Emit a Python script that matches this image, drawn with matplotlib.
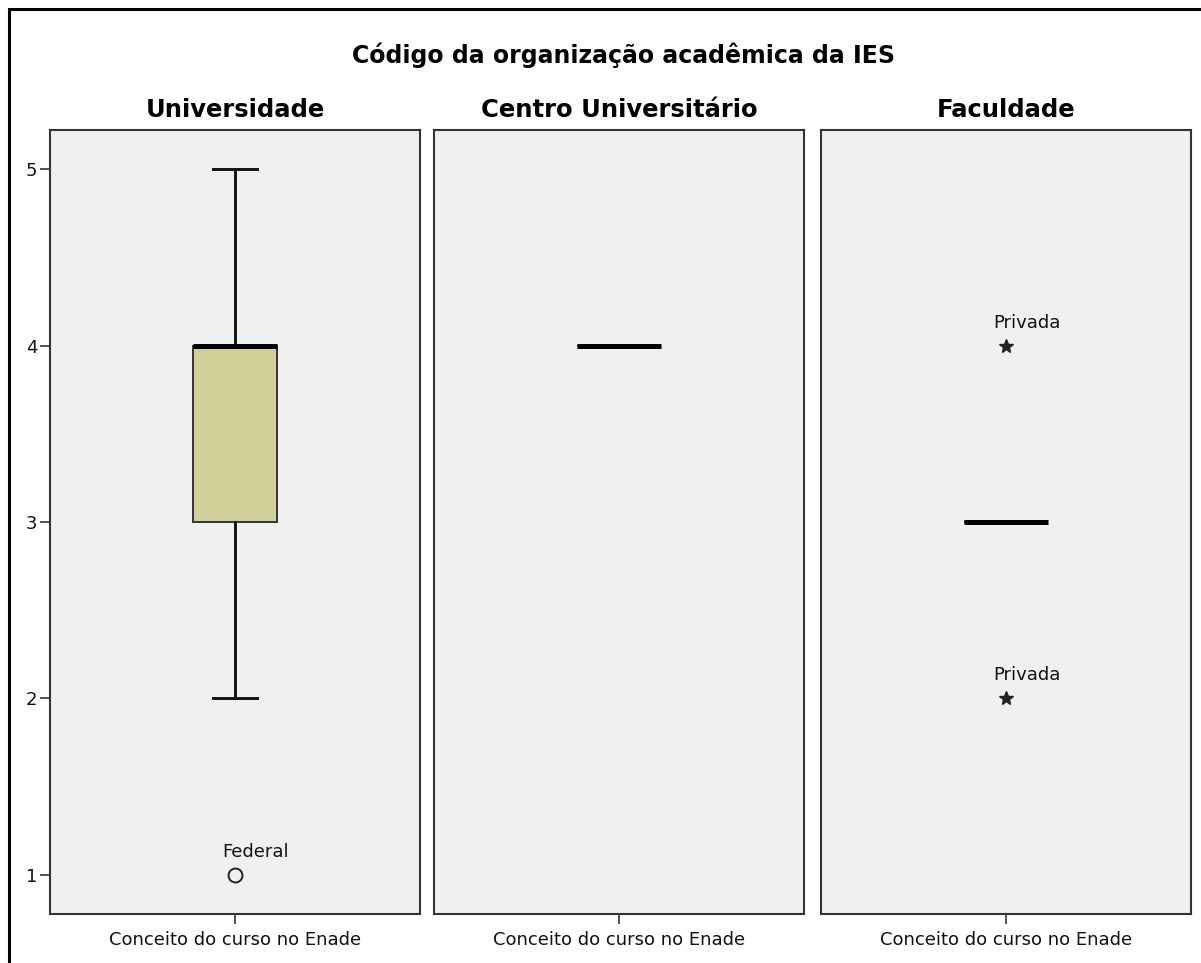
import matplotlib
matplotlib.use("Agg")
import matplotlib.pyplot as plt
from matplotlib.patches import Rectangle

# data
main_title = "Código da organização acadêmica da IES"
panels = ["Universidade", "Centro Universitário", "Faculdade"]
xlabel = "Conceito do curso no Enade"
q1 = [3, 4, 3]
med = [4, 4, 3]
q3 = [4, 4, 3]
whislo = [2, 4, 3]
whishi = [5, 4, 3]
outliers = [[1], [], []]
outlier_labels = [["Federal"], [], []]
extremes = [[], [], [4, 2]]
extreme_labels = [[], [], ["Privada", "Privada"]]
yticks = [1, 2, 3, 4, 5]

W, H = 1201, 963
fig = plt.figure(figsize=(W / 100, H / 100), dpi=100)
fig.patch.set_facecolor("white")

# outer frame (top/left visible, rest runs off the image)
fig.patches.append(Rectangle((9 / W, -0.1), 1.2, (H - 9) / H + 0.1, transform=fig.transFigure,
                             fill=False, edgecolor="black", linewidth=2.2))

fig.text(623 / W, 1 - 55 / H, main_title, ha="center", va="center",
         fontsize=17, fontweight="bold", family="DejaVu Sans")

lefts = [50, 434, 821]
pw = 370
top, bottom = 130, 914
txt = dict(fontsize=13, family="DejaVu Sans", color="#111111")

for i, name in enumerate(panels):
    ax = fig.add_axes([lefts[i] / W, 1 - bottom / H, pw / W, (bottom - top) / H])
    ax.set_facecolor("#f0f0f0")
    stats = [dict(med=med[i], q1=q1[i], q3=q3[i], whislo=whislo[i], whishi=whishi[i], fliers=[])]
    ax.bxp(stats, positions=[1], widths=0.227, capwidths=0.119, patch_artist=True,
           boxprops=dict(facecolor="#d2ce98", edgecolor="#333333", linewidth=1.4),
           whiskerprops=dict(color="#111111", linewidth=2.1),
           capprops=dict(color="#111111", linewidth=2.1),
           medianprops=dict(color="black", linewidth=3.6, solid_capstyle="butt"))
    for v, lab in zip(outliers[i], outlier_labels[i]):
        ax.plot([1], [v], marker="o", markersize=10, markerfacecolor="none",
                markeredgecolor="#222222", markeredgewidth=1.4, linestyle="none")
        ax.annotate(lab, (1, v), xytext=(-13, 14), textcoords="offset pixels",
                    ha="left", va="bottom", **txt)
    for v, lab in zip(extremes[i], extreme_labels[i]):
        ax.plot([1], [v], marker="*", markersize=10, color="#222222", linestyle="none")
        ax.annotate(lab, (1, v), xytext=(-13, 14), textcoords="offset pixels",
                    ha="left", va="bottom", **txt)

    ax.set_xlim(0.5, 1.5)
    ax.set_ylim(0.779, 5.221)
    ax.set_xticks([1])
    ax.set_xticklabels([xlabel], **txt)
    ax.tick_params(axis="x", length=7, width=1.2, color="#333333", pad=5)
    if i == 0:
        ax.set_yticks(yticks)
        ax.set_yticklabels([str(t) for t in yticks], **txt)
        ax.tick_params(axis="y", length=7, width=1.2, color="#333333", pad=2)
    else:
        ax.set_yticks([])
    for s in ax.spines.values():
        s.set_color("#333333")
        s.set_linewidth(1.5)
    ax.set_title(name, fontsize=17.5, fontweight="bold", family="DejaVu Sans", pad=9.5)

fig.savefig("out.png", dpi=100)
